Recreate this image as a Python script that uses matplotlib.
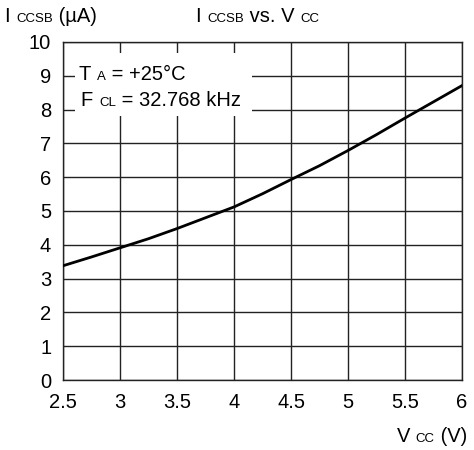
#!/usr/bin/env python3
"""ICCSB vs. VCC supply current curve."""
import matplotlib
matplotlib.use('Agg')
import matplotlib.pyplot as plt
from matplotlib.patches import Rectangle
from matplotlib.offsetbox import TextArea, HPacker, AnnotationBbox

# curve
vcc = [2.5, 2.75, 3.0, 3.25, 3.5, 3.75, 4.0, 4.25, 4.5, 4.75, 5.0, 5.25, 5.5, 5.75, 6.0]
iccsb = [3.38, 3.64, 3.91, 4.18, 4.48, 4.80, 5.12, 5.51, 5.93, 6.34, 6.79, 7.26, 7.75, 8.23, 8.71]
x_ticks = [2.5, 3, 3.5, 4, 4.5, 5, 5.5, 6]
x_tick_labels = ["2.5", "3", "3.5", "4", "4.5", "5", "5.5", "6"]
y_ticks = list(range(0, 11))

FONT = "Liberation Sans"
BIG = 14.5; SMALL = 9.5
INK = "#222222"

plt.rcParams['font.family'] = [FONT, 'DejaVu Sans']

fig = plt.figure(figsize=(4.74, 4.5), dpi=100)
ax = fig.add_axes([63/474, 70/450, 399/474, 338/450])

ax.plot(vcc, iccsb, color="black", lw=2.0, zorder=3, solid_joinstyle='round')
ax.set_xlim(2.5, 6); ax.set_ylim(0, 10)
ax.set_xticks(x_ticks); ax.set_xticklabels(x_tick_labels)
ax.set_yticks(y_ticks)
ax.tick_params(length=0, labelsize=BIG, colors="black")
ax.tick_params(axis='x', pad=9.5)
ax.tick_params(axis='y', pad=8.5)
ax.set_axisbelow(True)
ax.grid(True, color=INK, lw=1.0)
for s in ax.spines.values():
    s.set_color(INK); s.set_linewidth(1.0)

# white box behind the conditions text (hides grid)
ax.add_patch(Rectangle((2.605, 7.81), 4.16 - 2.605, 9.67 - 7.81,
                       facecolor="white", edgecolor="none", zorder=1))


def sub_text(parts, xy, align):
    kids = [TextArea(s, textprops=dict(fontsize=fs, family=[FONT, 'DejaVu Sans'], color="black"))
            for s, fs in parts]
    box = HPacker(children=kids, align="baseline", pad=0, sep=0)
    ab = AnnotationBbox(box, xy, xycoords='figure pixels', box_alignment=align,
                        frameon=False, pad=0, zorder=4)
    fig.add_artist(ab)

sub_text([("T ", BIG), ("A", SMALL), (" = +25°C", BIG)], (79, 450 - 74), (0, 0.5))
sub_text([("F ", BIG), ("CL", SMALL), (" = 32.768 kHz", BIG)], (81, 450 - 101), (0, 0.5))

sub_text([("I ", BIG), ("CCSB", SMALL), (" (µA)", BIG)], (5, 450 - 16), (0, 0.5))
sub_text([("I ", BIG), ("CCSB", SMALL), (" vs. V ", BIG), ("CC", SMALL)], (196, 450 - 16), (0, 0.5))
sub_text([("V ", BIG), ("CC", SMALL), (" (V)", BIG)], (467, 14), (1, 0.5))

fig.savefig("out.png", dpi=100)
plt.close(fig)
